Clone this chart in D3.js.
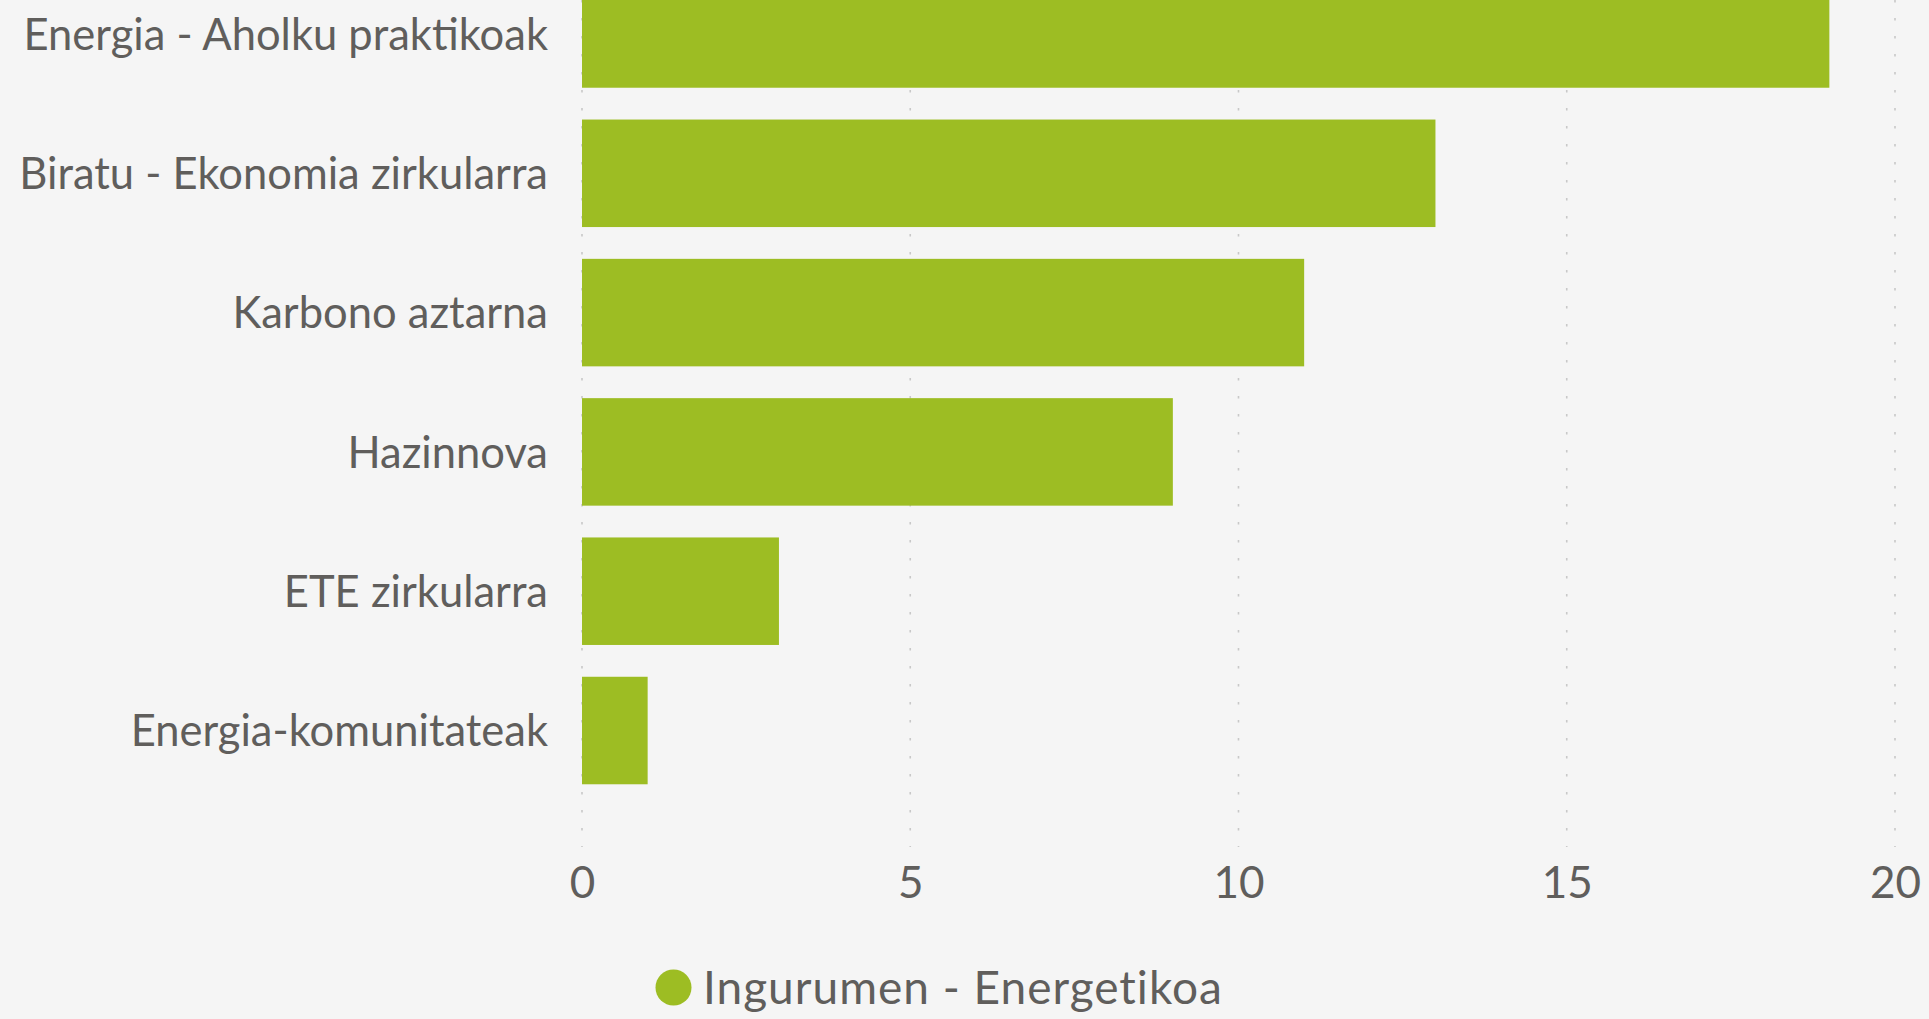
<!DOCTYPE html>
<html>
<head>
<meta charset="utf-8">
<script src="https://cdn.jsdelivr.net/npm/d3@7"></script>
<style>
  html, body { margin: 0; padding: 0; background: #F5F5F5; overflow: hidden; }
  svg { display: block; }
  text { font-family: Lato, "Open Sans", sans-serif; fill: #605E5C; }
</style>
</head>
<body>
<svg id="chart" width="1929" height="1019"></svg>
<script>
const categories = [
  "Energia - Aholku praktikoak",
  "Biratu - Ekonomia zirkularra",
  "Karbono aztarna",
  "Hazinnova",
  "ETE zirkularra",
  "Energia-komunitateak"
];
const values = [19, 13, 11, 9, 3, 1];
const xTicks = [0, 5, 10, 15, 20];
const seriesName = "Ingurumen - Energetikoa";

const W = 1929, H = 1019;
const barColor = "#9DBD23";
const svg = d3.select("#chart");

svg.append("rect").attr("width", W).attr("height", H).attr("fill", "#F5F5F5");

const x = d3.scaleLinear().domain([0, 20]).range([582, 1895]);
const y = d3.scaleBand().domain(categories).range([-35.65, 800.15])
  .paddingInner(0.2283).paddingOuter(0.114);

const fontSize = 43.5;

// gridlines
const grid = svg.append("g");
grid.selectAll("line").data(xTicks).join("line")
  .attr("x1", d => x(d)).attr("x2", d => x(d))
  .attr("y1", 0).attr("y2", 847)
  .attr("stroke", "#C8C8C8").attr("stroke-width", 1.6)
  .attr("stroke-dasharray", "2.5,15.5");

// bars
svg.append("g").selectAll("rect").data(categories).join("rect")
  .attr("x", x(0))
  .attr("y", d => y(d))
  .attr("width", (d, i) => x(values[i]) - x(0))
  .attr("height", y.bandwidth())
  .attr("fill", barColor);

// category labels (axis)
const yAxis = d3.axisLeft(y).tickSize(0).tickPadding(0);
const gy = svg.append("g").attr("transform", "translate(548,0)").call(yAxis);
gy.select(".domain").remove();
gy.selectAll("text")
  .attr("font-size", fontSize)
  .attr("fill", "#605E5C")
  .attr("font-family", "Lato, 'Open Sans', sans-serif")
  .attr("dy", "0.36em");

// x axis
const xAxis = d3.axisBottom(x).tickValues(xTicks).tickSize(0).tickPadding(0).tickFormat(d3.format("d"));
const gx = svg.append("g").attr("transform", "translate(0,898)").call(xAxis);
gx.select(".domain").remove();
gx.selectAll("text")
  .attr("font-size", 44)
  .attr("fill", "#605E5C")
  .attr("font-family", "Lato, 'Open Sans', sans-serif")
  .attr("y", 0).attr("dy", 0);

// legend
const lg = svg.append("g");
lg.append("circle").attr("cx", 673.5).attr("cy", 987.5).attr("r", 18).attr("fill", barColor);
lg.append("text").attr("x", 703).attr("y", 1004)
  .attr("font-size", 46).attr("letter-spacing", 1).text(seriesName);
</script>
</body>
</html>
